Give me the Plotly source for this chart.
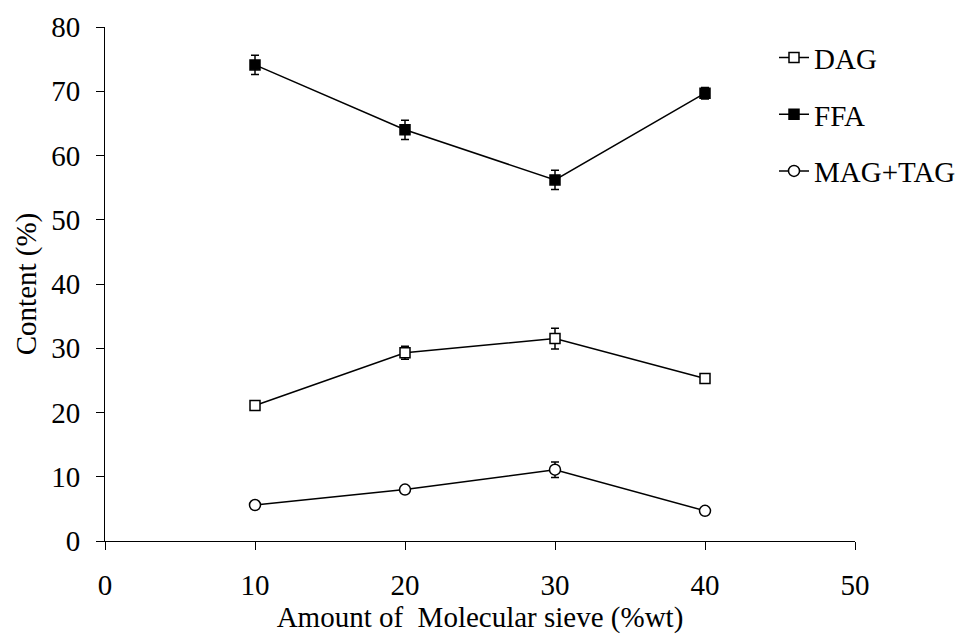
import plotly.graph_objects as go

# Amount of molecular sieve (%wt)
sieve = [10, 20, 30, 40]

# Composition of the reaction mixture (%), mean and standard deviation
dag = [21.1, 29.3, 31.5, 25.3]
dag_sd = [0.6, 1.0, 1.6, 0.5]

ffa = [74.1, 64.0, 56.2, 69.7]
ffa_sd = [1.5, 1.5, 1.5, 0.9]

mag_tag = [5.6, 8.0, 11.1, 4.7]
mag_tag_sd = [0.3, 0.4, 1.2, 0.3]

x_ticks = [0, 10, 20, 30, 40, 50]
y_ticks = [0, 10, 20, 30, 40, 50, 60, 70, 80]

FONT = "Liberation Serif, Times New Roman, serif"
FS = 29

series = [
    ("DAG", dag, dag_sd, "square", "white", 10),
    ("FFA", ffa, ffa_sd, "square", "black", 10),
    ("MAG+TAG", mag_tag, mag_tag_sd, "circle", "white", 11),
]

fig = go.Figure()
for name, vals, sd, sym, fill, size in series:
    fig.add_trace(go.Scatter(
        x=sieve, y=vals, name=name, mode="lines+markers",
        legendgroup=name,
        line=dict(color="black", width=1.5),
        marker=dict(symbol=sym, size=size, color=fill,
                    line=dict(color="black", width=1.5)),
        error_y=dict(type="data", array=sd, visible=True,
                     color="black", thickness=1.5, width=4),
    ))

fig.update_layout(
    width=966, height=639,
    margin=dict(l=105, r=111, t=27, b=98, autoexpand=False),
    paper_bgcolor="white", plot_bgcolor="white",
    font=dict(family=FONT, color="black", size=FS),
    showlegend=True,
    legend=dict(x=0.892, y=0.99, xanchor="left", yanchor="top",
                bgcolor="rgba(0,0,0,0)", font=dict(size=FS, family=FONT),
                tracegroupgap=16, itemwidth=30),
    xaxis=dict(
        range=[0, 50], tickvals=x_ticks, ticktext=[str(v) for v in x_ticks],
        showgrid=False, zeroline=False, showline=True, linecolor="black",
        linewidth=1, ticks="outside", ticklen=8, tickcolor="black",
        tickfont=dict(size=FS, family=FONT), ticklabelstandoff=10,
        title=dict(text="Amount of\u00a0 Molecular sieve (%wt)",
                   font=dict(size=FS, family=FONT), standoff=4),
    ),
    yaxis=dict(
        range=[0, 80], tickvals=y_ticks, ticktext=[str(v) for v in y_ticks],
        showgrid=False, zeroline=False, showline=True, linecolor="black",
        linewidth=1, ticks="outside", ticklen=8, tickcolor="black",
        tickfont=dict(size=FS, family=FONT), ticklabelstandoff=10,
        title=dict(text="Content (%)", font=dict(size=FS, family=FONT),
                   standoff=6),
    ),
)

fig.write_html("out.html")
